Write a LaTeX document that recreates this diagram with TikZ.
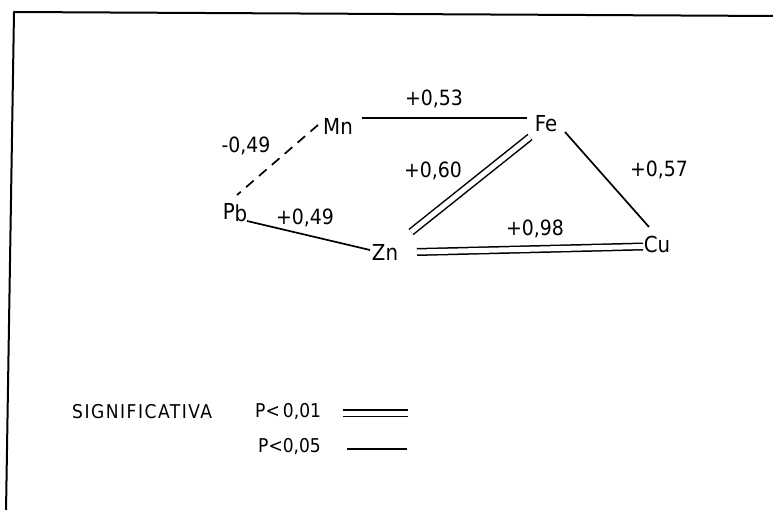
\documentclass[tikz,border=0pt]{standalone}
\usepackage{fontspec}
\setmainfont{DejaVu Sans Condensed}
\usetikzlibrary{calc}
\begin{document}
\begin{tikzpicture}[x=1pt,y=-1pt,
  el/.style={inner sep=1pt, font=\fontsize{22}{26}\selectfont},
  lab/.style={inner sep=1pt, font=\fontsize{21}{25}\selectfont},
  leg/.style={inner sep=1pt, font=\fontsize{19}{23}\selectfont},
  conn/.style={line width=1.7pt},
  dconn/.style={line width=1.7pt, dash pattern=on 10pt off 7pt},
  dbl/.style={double, double distance=5pt, line width=1.5pt},
  frame/.style={line width=2pt, line join=round}]
\useasboundingbox (0,0) rectangle (773,510);
% frame
\draw[frame] (6,512) -- (14,12) -- (775,16);
% elements
\node[el] (mn) at (338,126) {Mn};
\node[el] (fe) at (546,124) {Fe};
\node[el] (pb) at (235,213) {P\raisebox{-2pt}{b}};
\node[el] (zn) at (385,252) {Zn};
\node[el] (cu) at (657,244) {Cu};
% labels
\node[lab] (l53) at (434,99) {+0,53};
\node[lab] (l49n) at (246,146) {-0,49};
\node[lab] (l60) at (433,171) {+0,60};
\node[lab] (l57) at (659,170) {+0,57};
\node[lab] (l49) at (305,218) {+0,49};
\node[lab] (l98) at (535,229) {+0,98};
% connectors
\draw[conn] ($(mn)+(24,-8)$) -- ($(fe)+(-19,-6)$);
\draw[dconn] ($(mn)+(-20,-1)$) -- ($(pb)+(2,-18)$);
\draw[conn] ($(pb)+(12,8)$) -- ($(zn)+(-15,-2)$);
\draw[dbl] ($(zn)+(26,-20)$) -- ($(fe)+(-16,13)$);
\draw[dbl] ($(zn)+(32,0)$) -- ($(cu)+(-14,2.5)$);
\draw[conn] ($(fe)+(19,8)$) -- ($(cu)+(-8,-17)$);
% legend
\node[leg, anchor=west] (sig) at (71,412) {\addfontfeature{LetterSpace=8}SIGNIFICATIVA};
\node[leg, anchor=west] (p01) at (254,412) {P<\,0,01};
\node[leg, anchor=west] (p05) at (257,447) {P<0,05};
\coordinate (d1a) at (343,413);
\coordinate (d1b) at (408,413);
\coordinate (s1a) at (347,449);
\coordinate (s1b) at (407,449);
\draw[dbl] (d1a) -- (d1b);
\draw[conn] (s1a) -- (s1b);
\end{tikzpicture}
\end{document}
